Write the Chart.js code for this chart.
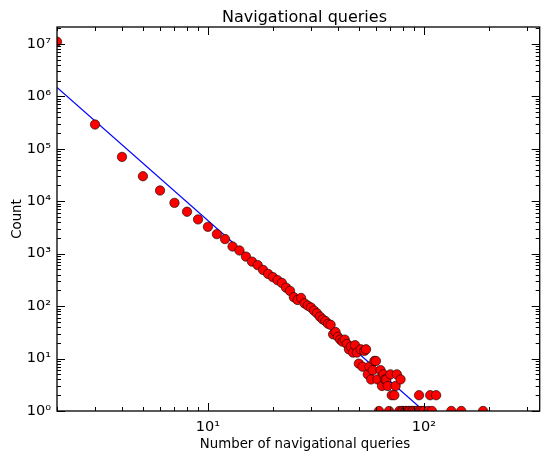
<!DOCTYPE html>
<html>
<head>
<meta charset="utf-8">
<script src="https://cdn.jsdelivr.net/npm/chart.js@4"></script>
<style>
  html, body { margin: 0; padding: 0; background: #ffffff; }
  #c { display: block; }
</style>
</head>
<body>
<canvas id="c" width="545" height="453"></canvas>
<script>
// ---- data ----
const chartTitle = "Navigational queries";
const xAxisTitle = "Number of navigational queries";
const yAxisTitle = "Count";

// number of navigational queries (x) and count (y)
const queryCounts = [
  2, 3, 4, 5, 6, 7, 8, 9, 10, 11, 12, 13, 14, 15, 16, 17, 18, 19, 20,
  21, 22, 23, 24, 25, 26, 27, 28, 29, 30, 31, 32, 33, 34, 35, 36,
  37, 38, 39, 40, 41, 42, 43, 44, 45, 46, 47, 48, 49, 50, 51, 52, 53, 54,
  55, 56, 57, 58, 59, 60, 61, 62, 63, 64, 65, 66, 67, 68, 69, 70, 71, 73,
  74, 75, 77, 78, 79, 80, 82, 83, 85, 86, 88, 89, 91, 93, 95, 96, 98, 100,
  105, 107, 109, 114, 134, 149, 188
];
const frequencies = [
  1.1e7, 2.9e5, 7.0e4, 3.0e4, 1.6e4, 9300, 6300, 4500, 3250, 2360, 1900, 1370, 1150, 880, 705, 605, 490, 411, 357,
  312, 277, 225, 195, 148, 131, 143, 113, 102, 94, 82, 73, 63, 56, 52, 46,
  44, 29, 32, 26, 23, 21, 23, 19, 15, 17, 13, 18, 13, 8, 15, 7, 14, 15,
  5, 7, 4, 6, 9, 9, 4, 1, 6, 3, 5, 4, 4, 3, 1, 5, 2, 2,
  3, 5, 1, 4, 1, 1, 1, 1, 1, 1, 1, 1, 1, 1, 2, 1, 1, 1,
  1, 2, 1, 2, 1, 1, 1
];

// fitted power-law line end points
const fitX = [2, 100];
const fitY = [1.48e6, 1];

// axis ranges and tick labels
const xRange = [2, 344];
const yRange = [1, 2.1e7];
const xMajorTicks = [10, 100];
const xTickLabels = ["10\u00B9", "10\u00B2"];
const yMajorTicks = [1, 10, 100, 1e3, 1e4, 1e5, 1e6, 1e7];
const yTickLabels = ["10\u2070", "10\u00B9", "10\u00B2", "10\u00B3", "10\u2074", "10\u2075", "10\u2076", "10\u2077"];

// ---- chart ----
const FONT = "'DejaVu Sans', 'Liberation Sans', sans-serif";

const scatterPoints = queryCounts.map((x, i) => ({ x: x, y: frequencies[i] }));
const fitPoints = fitX.map((x, i) => ({ x: x, y: fitY[i] }));

function minorValues(min, max) {
  const out = [];
  for (let e = Math.floor(Math.log10(min)) - 1; e <= Math.ceil(Math.log10(max)); e++) {
    for (let m = 1; m <= 9; m++) {
      const v = m * Math.pow(10, e);
      if (v >= min && v <= max) out.push({ v: v, major: m === 1 });
    }
  }
  return out;
}

const framePlugin = {
  id: 'frameTicks',
  afterDraw(chart) {
    const ctx = chart.ctx;
    const a = chart.chartArea;
    const xs = chart.scales.x, ys = chart.scales.y;
    ctx.save();
    ctx.strokeStyle = '#000000';
    ctx.lineWidth = 1;
    // inward ticks
    minorValues(xRange[0], xRange[1]).forEach(t => {
      const px = Math.round(xs.getPixelForValue(t.v)) + 0.5;
      const len = t.major ? 8 : 4;
      ctx.beginPath();
      ctx.moveTo(px, a.bottom); ctx.lineTo(px, a.bottom - len);
      ctx.moveTo(px, a.top); ctx.lineTo(px, a.top + len);
      ctx.stroke();
    });
    minorValues(yRange[0], yRange[1]).forEach(t => {
      const py = Math.round(ys.getPixelForValue(t.v)) + 0.5;
      const len = t.major ? 8 : 4;
      ctx.beginPath();
      ctx.moveTo(a.left, py); ctx.lineTo(a.left + len, py);
      ctx.moveTo(a.right, py); ctx.lineTo(a.right - len, py);
      ctx.stroke();
    });
    // frame
    ctx.lineWidth = 1.3;
    ctx.strokeRect(a.left, a.top, a.right - a.left, a.bottom - a.top);
    // titles
    ctx.fillStyle = '#000000';
    ctx.textAlign = 'center';
    ctx.textBaseline = 'alphabetic';
    ctx.font = "16px " + FONT;
    ctx.fillText(chartTitle, 304.5, 22);
    ctx.font = "13.3px " + FONT;
    ctx.fillText(xAxisTitle, 305, 448);
    ctx.restore();
  }
};

new Chart(document.getElementById('c'), {
  type: 'scatter',
  data: {
    datasets: [
      {
        label: 'fit',
        type: 'line',
        data: fitPoints,
        borderColor: '#0000ff',
        borderWidth: 1.2,
        pointRadius: 0,
        fill: false,
        tension: 0,
        order: 2
      },
      {
        label: 'counts',
        data: scatterPoints,
        backgroundColor: '#ff0000',
        borderColor: '#000000',
        borderWidth: 0.6,
        pointRadius: 4.7,
        pointHoverRadius: 4.7,
        order: 1
      }
    ]
  },
  options: {
    responsive: false,
    animation: false,
    devicePixelRatio: 1,
    layout: { padding: { top: 27, right: 1, bottom: 0, left: 0 } },
    plugins: {
      legend: { display: false },
      tooltip: { enabled: false },
      title: { display: false }
    },
    scales: {
      x: {
        type: 'logarithmic',
        min: xRange[0],
        max: xRange[1],
        grid: { display: false, drawTicks: false },
        border: { display: false },
        afterBuildTicks(scale) { scale.ticks = xMajorTicks.map(v => ({ value: v })); },
        afterFit(scale) { scale.height = 42; },
        ticks: {
          color: '#000000',
          font: { family: FONT, size: 14.5 },
          padding: 8,
          maxRotation: 0,
          autoSkip: false,
          callback(value) {
            const i = xMajorTicks.indexOf(value);
            return i >= 0 ? xTickLabels[i] : '';
          }
        },
        title: { display: false }
      },
      y: {
        type: 'logarithmic',
        min: yRange[0],
        max: yRange[1],
        grid: { display: false, drawTicks: false },
        border: { display: false },
        afterBuildTicks(scale) { scale.ticks = yMajorTicks.map(v => ({ value: v })); },
        afterFit(scale) { scale.width = 57; },
        ticks: {
          color: '#000000',
          font: { family: FONT, size: 14.5 },
          padding: 6,
          autoSkip: false,
          callback(value) {
            const i = yMajorTicks.indexOf(value);
            return i >= 0 ? yTickLabels[i] : '';
          }
        },
        title: {
          display: true,
          text: yAxisTitle,
          color: '#000000',
          font: { family: FONT, size: 13.3 },
          padding: { top: 9.5, bottom: 0 }
        }
      }
    }
  },
  plugins: [framePlugin]
});
</script>
</body>
</html>
